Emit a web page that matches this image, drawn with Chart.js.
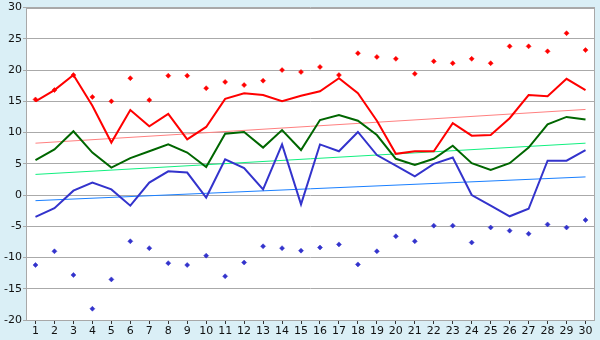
<!DOCTYPE html>
<html>
<head>
<meta charset="utf-8">
<script src="https://cdn.jsdelivr.net/npm/chart.js@4/dist/chart.umd.min.js"></script>
<style>
  html, body { margin: 0; padding: 0; background: #daeff6; }
  #wrap { width: 600px; height: 340px; }
</style>
</head>
<body>
<div id="wrap"><canvas id="tempChart" width="600" height="340"></canvas></div>
<script>
// days of the month
const days = ['1','2','3','4','5','6','7','8','9','10','11','12','13','14','15',
  '16','17','18','19','20','21','22','23','24','25','26','27','28','29','30'];

// daily max / mean / min
const maxTemps = [15.0, 16.8, 19.2, 14.3, 8.4, 13.6, 11.0, 13.0, 8.9, 10.9,
  15.4, 16.3, 16.0, 15.0, 15.9, 16.6, 18.7, 16.3, 11.9, 6.6,
  7.0, 7.0, 11.5, 9.5, 9.6, 12.3, 16.0, 15.8, 18.6, 16.8];
const meanTemps = [5.6, 7.3, 10.2, 6.8, 4.4, 5.9, 7.0, 8.1, 6.8, 4.5,
  9.8, 10.1, 7.6, 10.4, 7.2, 12.0, 12.8, 11.9, 9.6, 5.8,
  4.8, 5.8, 7.9, 5.1, 4.0, 5.1, 7.6, 11.3, 12.5, 12.1];
const minTemps = [-3.5, -2.1, 0.7, 2.0, 0.9, -1.7, 2.0, 3.8, 3.6, -0.4,
  5.7, 4.3, 0.9, 8.1, -1.5, 8.1, 7.0, 10.1, 6.4, 4.7,
  3.0, 5.0, 6.0, 0.0, -1.7, -3.4, -2.2, 5.5, 5.5, 7.2];

// record highs / lows
const recordHighs = [15.3, 16.8, 19.2, 15.7, 15.0, 18.7, 15.2, 19.1, 19.1, 17.1,
  18.1, 17.6, 18.3, 20.0, 19.7, 20.5, 19.2, 22.7, 22.1, 21.8,
  19.4, 21.4, 21.1, 21.8, 21.1, 23.8, 23.8, 23.0, 25.9, 23.2];
const recordLows = [-11.2, -9.0, -12.8, -18.2, -13.5, -7.4, -8.5, -10.9, -11.2, -9.7,
  -13.0, -10.8, -8.2, -8.5, -8.9, -8.4, -7.9, -11.1, -9.0, -6.6,
  -7.4, -4.9, -4.9, -7.6, -5.2, -5.7, -6.2, -4.7, -5.2, -4.0];

// trend line end points (day 1, day 30)
const maxTrend = [8.3, 13.7];
const meanTrend = [3.3, 8.3];
const minTrend = [-0.9, 2.9];

const yTicks = [-20, -15, -10, -5, 0, 5, 10, 15, 20, 25, 30];

function trendData(ends) {
  return days.map((d, i) => i === 0 ? ends[0] : (i === days.length - 1 ? ends[1] : null));
}

const bgPlugin = {
  id: 'bg',
  beforeDraw(chart) {
    const c = chart.ctx, a = chart.chartArea;
    c.save();
    c.fillStyle = '#daeff6';
    c.fillRect(0, 0, chart.width, chart.height);
    c.fillStyle = '#ffffff';
    c.fillRect(a.left, a.top, a.right - a.left, a.bottom - a.top);
    c.restore();
  },
  afterDraw(chart) {
    const c = chart.ctx, a = chart.chartArea;
    c.save();
    c.strokeStyle = '#a8a8a8';
    c.lineWidth = 1;
    c.strokeRect(Math.round(a.left) + 0.5, Math.round(a.top) + 0.5,
      Math.round(a.right - a.left) - 1, Math.round(a.bottom - a.top));
    c.restore();
  }
};

const lineDs = (data, color) => ({
  type: 'line', data, borderColor: color, borderWidth: 2,
  pointRadius: 0, tension: 0, order: 2
});
const trendDs = (ends, color) => ({
  type: 'line', data: trendData(ends), borderColor: color, borderWidth: 1,
  pointRadius: 0, spanGaps: true, order: 3
});
const dotDs = (data, color) => ({
  type: 'line', data, showLine: false, pointStyle: 'rectRot', pointRadius: 2.5,
  pointBackgroundColor: color, pointBorderColor: color, pointBorderWidth: 0.5, order: 1
});

new Chart(document.getElementById('tempChart'), {
  data: {
    labels: days,
    datasets: [
      trendDs(maxTrend, '#ff8080'),
      trendDs(meanTrend, '#11f080'),
      trendDs(minTrend, '#1a80ff'),
      lineDs(maxTemps, '#ff0000'),
      lineDs(meanTemps, '#006600'),
      lineDs(minTemps, '#3333cc'),
      dotDs(recordHighs, '#ff0000'),
      dotDs(recordLows, '#3333cc')
    ]
  },
  options: {
    responsive: false,
    animation: false,
    layout: { padding: { top: 5, right: 5, left: 0, bottom: 0 } },
    plugins: { legend: { display: false }, tooltip: { enabled: false } },
    scales: {
      x: {
        offset: true,
        grid: { offset: false, drawOnChartArea: false, drawTicks: true, tickLength: 4, color: '#333' },
        border: { display: false },
        ticks: { color: '#111', font: { family: 'DejaVu Sans', size: 11 }, padding: 1, maxRotation: 0, autoSkip: false },
        afterFit(scale) { scale.height = 20; }
      },
      y: {
        min: -20, max: 30,
        afterBuildTicks(scale) { scale.ticks = yTicks.map(v => ({ value: v })); },
        grid: { color: '#aaaaaa', tickLength: 3, drawTicks: true },
        border: { display: false },
        ticks: { color: '#111', font: { family: 'DejaVu Sans', size: 11 }, padding: 1 },
        afterFit(scale) { scale.width = 26; }
      }
    }
  },
  plugins: [bgPlugin]
});
</script>
</body>
</html>
